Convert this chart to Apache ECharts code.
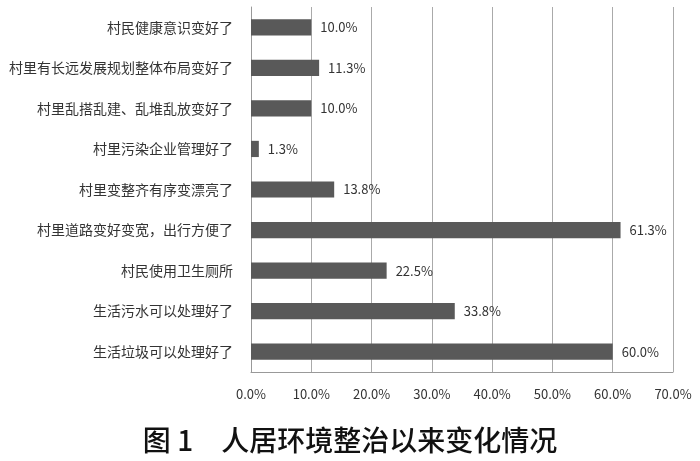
<!DOCTYPE html>
<html>
<head>
<meta charset="utf-8">
<script src="https://cdn.jsdelivr.net/npm/echarts@6/dist/echarts.min.js"></script>
<style>
  html, body { margin: 0; padding: 0; background: #fff; }
  #main { width: 700px; height: 461px; }
</style>
</head>
<body>
<div id="main"></div>
<script>
// 类别（从上到下）
var categories = [
    '村民健康意识变好了',
    '村里有长远发展规划整体布局变好了',
    '村里乱搭乱建、乱堆乱放变好了',
    '村里污染企业管理好了',
    '村里变整齐有序变漂亮了',
    '村里道路变好变宽，出行方便了',
    '村民使用卫生厕所',
    '生活污水可以处理好了',
    '生活垃圾可以处理好了'
];
var values = [10.0, 11.3, 10.0, 1.3, 13.8, 61.3, 22.5, 33.8, 60.0];
var xTicks = [0, 10, 20, 30, 40, 50, 60, 70];
var titleText = '图 1　人居环境整治以来变化情况';

var chart = echarts.init(document.getElementById('main'));

var option = {
    animation: false,
    textStyle: { fontFamily: '"Noto Sans CJK SC", sans-serif' },
    title: {
        text: titleText,
        left: 'center',
        top: 421,
        textStyle: {
            fontSize: 28,
            fontWeight: 500,
            color: '#111',
            fontFamily: '"Noto Sans CJK SC", sans-serif'
        }
    },
    grid: { left: 251, right: 27, top: 7, bottom: 89 },
    xAxis: {
        type: 'value',
        min: xTicks[0],
        max: xTicks[xTicks.length - 1],
        interval: 10,
        axisLine: { show: true, lineStyle: { color: '#999', width: 1 } },
        axisTick: { show: false },
        splitLine: { show: true, lineStyle: { color: '#aaa', width: 1 } },
        axisLabel: {
            margin: 16,
            fontSize: 13,
            color: '#333',
            formatter: function (v) { return v.toFixed(1) + '%'; }
        }
    },
    yAxis: {
        type: 'category',
        inverse: true,
        data: categories,
        axisLine: { show: true, lineStyle: { color: '#999', width: 1 } },
        axisTick: { show: false },
        axisLabel: { margin: 18, fontSize: 14, color: '#333' }
    },
    series: [{
        type: 'bar',
        data: values,
        barCategoryGap: '60%',
        itemStyle: { color: '#595959' },
        label: {
            show: true,
            position: 'right',
            distance: 9,
            fontSize: 13,
            color: '#333',
            formatter: function (p) { return p.value.toFixed(1) + '%'; }
        }
    }]
};

chart.setOption(option);
</script>
</body>
</html>
